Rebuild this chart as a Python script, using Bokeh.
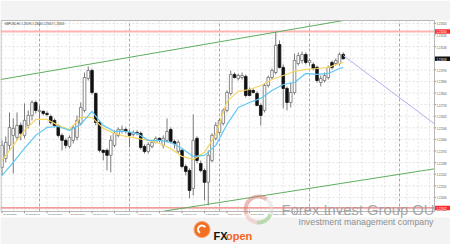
from bokeh.plotting import figure
from bokeh.models import Range1d
from bokeh.core.properties import value
from bokeh.embed import file_html
from bokeh.resources import INLINE

# ---------------- data ----------------
symbol = "GBPUSD,H1"
header_quote = "1.23076 1.23080 1.23057 1.23058"

bar_index = list(range(92))
opens = [1.22253, 1.22319, 1.22416, 1.22490, 1.22475, 1.22564, 1.22490, 1.22564, 1.22638, 1.22734,
         1.22668, 1.22668, 1.22653, 1.22630, 1.22601, 1.22564, 1.22490, 1.22453, 1.22408, 1.22453,
         1.22475, 1.22579, 1.22675, 1.22912, 1.22971, 1.22801, 1.22586, 1.22379, 1.22379, 1.22342,
         1.22416, 1.22490, 1.22519, 1.22534, 1.22512, 1.22497, 1.22512, 1.22505, 1.22408, 1.22371,
         1.22408, 1.22438, 1.22468, 1.22416, 1.22453, 1.22534, 1.22445, 1.22371, 1.22379, 1.22260,
         1.22230, 1.22097, 1.22468, 1.22282, 1.22230, 1.22142, 1.22304, 1.22468, 1.22512, 1.22579,
         1.22675, 1.22801, 1.22942, 1.22912, 1.22919, 1.22927, 1.22830, 1.22823, 1.22801, 1.22712,
         1.22675, 1.22860, 1.22919, 1.22956, 1.23164, 1.22994, 1.22838, 1.22734, 1.22808, 1.23023,
         1.23045, 1.23090, 1.23031, 1.23016, 1.22994, 1.22882, 1.22897, 1.22919, 1.23031, 1.23023,
         1.23023, 1.23090]
highs = [1.22453, 1.22482, 1.22660, 1.22616, 1.22660, 1.22586, 1.22727, 1.22675, 1.22749, 1.22749,
         1.22712, 1.22675, 1.22668, 1.22645, 1.22616, 1.22571, 1.22505, 1.22468, 1.22490, 1.22564,
         1.22638, 1.22734, 1.22956, 1.23001, 1.22986, 1.22808, 1.22601, 1.22386, 1.22393, 1.22490,
         1.22527, 1.22549, 1.22564, 1.22549, 1.22527, 1.22527, 1.22527, 1.22519, 1.22423, 1.22438,
         1.22453, 1.22482, 1.22475, 1.22490, 1.22616, 1.22549, 1.22460, 1.22453, 1.22393, 1.22275,
         1.22245, 1.22645, 1.22482, 1.22304, 1.22245, 1.22379, 1.22505, 1.22586, 1.22616, 1.22690,
         1.22823, 1.22971, 1.22956, 1.22949, 1.22956, 1.22942, 1.22845, 1.22838, 1.22816, 1.22727,
         1.22875, 1.22934, 1.22986, 1.23260, 1.23194, 1.23016, 1.22853, 1.22882, 1.23097, 1.23105,
         1.23112, 1.23105, 1.23060, 1.23031, 1.23008, 1.22934, 1.22956, 1.23008, 1.23045, 1.23060,
         1.23105, 1.23105]
lows = [1.22193, 1.22290, 1.22379, 1.22208, 1.22453, 1.22453, 1.22468, 1.22542, 1.22601, 1.22653,
        1.22564, 1.22638, 1.22630, 1.22571, 1.22549, 1.22475, 1.22379, 1.22393, 1.22393, 1.22430,
        1.22453, 1.22564, 1.22660, 1.22897, 1.22793, 1.22564, 1.22364, 1.22304, 1.22230, 1.22216,
        1.22401, 1.22475, 1.22505, 1.22505, 1.22401, 1.22482, 1.22490, 1.22386, 1.22356, 1.22356,
        1.22393, 1.22430, 1.22438, 1.22393, 1.22438, 1.22430, 1.22393, 1.22356, 1.22245, 1.22193,
        1.22023, 1.22045, 1.22282, 1.22216, 1.22008, 1.21971, 1.22290, 1.22453, 1.22497, 1.22564,
        1.22660, 1.22786, 1.22912, 1.22897, 1.22904, 1.22771, 1.22779, 1.22801, 1.22705, 1.22564,
        1.22660, 1.22845, 1.22904, 1.22942, 1.22986, 1.22690, 1.22675, 1.22697, 1.22793, 1.23008,
        1.23023, 1.23016, 1.23008, 1.22971, 1.22882, 1.22853, 1.22882, 1.22904, 1.22979, 1.23008,
        1.23008, 1.23053]
closes = [1.22416, 1.22438, 1.22549, 1.22542, 1.22564, 1.22505, 1.22601, 1.22638, 1.22734, 1.22675,
          1.22675, 1.22653, 1.22645, 1.22586, 1.22564, 1.22490, 1.22453, 1.22416, 1.22475, 1.22549,
          1.22601, 1.22697, 1.22919, 1.22971, 1.22808, 1.22586, 1.22379, 1.22364, 1.22342, 1.22453,
          1.22505, 1.22534, 1.22534, 1.22519, 1.22490, 1.22512, 1.22505, 1.22401, 1.22371, 1.22423,
          1.22438, 1.22468, 1.22453, 1.22468, 1.22519, 1.22445, 1.22430, 1.22438, 1.22260, 1.22223,
          1.22082, 1.22453, 1.22304, 1.22230, 1.22142, 1.22342, 1.22490, 1.22564, 1.22601, 1.22675,
          1.22808, 1.22942, 1.22919, 1.22934, 1.22934, 1.22786, 1.22786, 1.22808, 1.22712, 1.22638,
          1.22860, 1.22919, 1.22971, 1.23157, 1.22994, 1.22838, 1.22734, 1.22808, 1.23045, 1.23082,
          1.23090, 1.23031, 1.23045, 1.22986, 1.22897, 1.22912, 1.22934, 1.22994, 1.22994, 1.23045,
          1.23090, 1.23058]

ma_index = [0, 3, 6, 9, 12, 15, 18, 21, 24, 27, 30, 33, 36, 39, 42, 45, 48, 51, 54, 57,
            60, 63, 66, 69, 72, 75, 78, 81, 84, 87, 90, 91]
ma_yellow = [1.22304, 1.22416, 1.22527, 1.22608, 1.22608, 1.22564, 1.22534, 1.22623, 1.22623, 1.22542,
             1.22505, 1.22482, 1.22468, 1.22453, 1.22430, 1.22393, 1.22334, 1.22312, 1.22364, 1.22497,
             1.22742, 1.22816, 1.22830, 1.22860, 1.22904, 1.22934, 1.22964, 1.22979, 1.22986, 1.22994,
             1.23023, 1.23031]
ma_blue = [1.22193, 1.22290, 1.22393, 1.22490, 1.22549, 1.22556, 1.22527, 1.22571, 1.22668, 1.22564,
           1.22519, 1.22519, 1.22505, 1.22453, 1.22453, 1.22438, 1.22393, 1.22334, 1.22342, 1.22416,
           1.22571, 1.22697, 1.22734, 1.22764, 1.22823, 1.22867, 1.22882, 1.22949, 1.22942, 1.22949,
           1.22986, 1.22994]

time_tick_index = [0, 6, 12, 18, 24, 30, 36, 42, 48, 54, 60, 66, 72, 78, 84, 90]
time_tick_labels = ["30 Oct 2020", "30 Oct 20:00", "31 Oct 02:00", "31 Oct 08:00",
                    "31 Oct 14:00", "31 Oct 20:00", "1 Nov 02:00", "1 Nov 08:00",
                    "1 Nov 14:00", "1 Nov 20:00", "2 Nov 02:00", "2 Nov 08:00",
                    "2 Nov 14:00", "2 Nov 20:00", "3 Nov 02:00", "3 Nov 08:00"]
day_separator_index = [10, 34, 58, 82, 106]
grid_index = [0, 3, 6, 9, 12, 15, 18, 21, 24, 27, 30, 33, 36, 39, 42, 45, 48, 51, 54, 57,
              60, 63, 66, 69, 72, 75, 78, 81, 84, 87, 90, 93, 96, 99, 102, 105, 108, 111, 114]
price_ticks = [1.21944, 1.22030, 1.22116, 1.22202, 1.22288, 1.22374, 1.22460, 1.22546, 1.22632,
               1.22718, 1.22804, 1.22890, 1.22976, 1.23062, 1.23148, 1.23234, 1.23320]
price_tick_labels = ["1.21944", "1.22030", "1.22116", "1.22202", "1.22288", "1.22374", "1.22460",
                     "1.22546", "1.22632", "1.22718", "1.22804", "1.22890", "1.22976", "1.23062",
                     "1.23148", "1.23234", "1.23320"]

resistance_level = 1.23260
support_level = 1.21952
current_price = 1.23058
level_prices = [resistance_level, current_price, support_level]
level_labels = ["1.23260", "1.23058", "1.21952"]
level_colors = ["#ff2a2a", "#111111", "#ff2a2a"]

channel_upper_index = [-0.4, 91.1]
channel_upper_price = [1.22904, 1.23342]
channel_lower_index = [42.7, 115.3]
channel_lower_price = [1.21926, 1.22242]
projection_index = [91, 115.3]
projection_price = [1.23082, 1.22576]

# ---------------- canvas geometry (pixel -> data helpers for decoration only) ----------------
W, H = 450, 244
X0, X1 = -0.4, 119.6          # x data at canvas px 0 and 450
YT, YB = 1.23490, 1.21681     # price at canvas px 0 and 244


def dx(px):
    return X0 + px * (X1 - X0) / W


def dy(py):
    return YT - py * (YT - YB) / H


PX = (YT - YB) / H            # one pixel in price units
CHART_L, CHART_R, CHART_T, CHART_B = dx(0), dx(434), dy(20), dy(211)

p = figure(width=W, height=H, output_backend="svg", toolbar_location=None,
           x_range=Range1d(X0, X1), y_range=Range1d(YB, YT),
           x_axis_location=None, y_axis_location=None,
           min_border_left=0, min_border_right=0, min_border_top=0, min_border_bottom=0)
p.outline_line_color = None
p.background_fill_color = "white"
p.border_fill_color = "white"
p.grid.visible = False

# page bands
p.quad(left=[dx(0), dx(0)], right=[dx(450), dx(450)], top=[dy(0), dy(217)],
       bottom=[dy(20), dy(244)], fill_color="#f3f3f3", line_color=None)

# grid
p.multi_line(xs=[[CHART_L, CHART_R] for _ in price_ticks], ys=[[t, t] for t in price_ticks],
             line_color="#e2e2e2", line_dash="2 2", line_width=1)
p.multi_line(xs=[[g, g] for g in grid_index], ys=[[CHART_B, CHART_T] for _ in grid_index],
             line_color="#e2e2e2", line_dash="2 2", line_width=1)
p.multi_line(xs=[[d, d] for d in day_separator_index], ys=[[CHART_B, CHART_T] for _ in day_separator_index],
             line_color="#a8a8a8", line_dash="3 2", line_width=1)

# horizontal levels
p.segment(x0=[CHART_L], x1=[CHART_R], y0=[resistance_level], y1=[resistance_level],
          line_color="#ffb3b3", line_width=2)
p.segment(x0=[CHART_L], x1=[CHART_R], y0=[support_level], y1=[support_level],
          line_color="#f07a7a", line_width=1.3)

# candles
up = [i for i in bar_index if closes[i] >= opens[i]]
dn = [i for i in bar_index if closes[i] < opens[i]]
p.segment(x0=bar_index, y0=highs, x1=bar_index, y1=lows, line_color="#7a7a7a", line_width=1)
p.vbar(x=up, top=[closes[i] for i in up], bottom=[opens[i] for i in up], width=0.7,
       fill_color="white", line_color="#6e6e6e", line_width=0.8)
p.vbar(x=dn, top=[opens[i] for i in dn], bottom=[closes[i] for i in dn], width=0.7,
       fill_color="#111111", line_color="#111111", line_width=0.8)

# moving averages
p.line(ma_index, ma_yellow, line_color="#f5d565", line_width=1.2)
p.line(ma_index, ma_blue, line_color="#5ec8f2", line_width=1.2)

# channel and projection
p.line(channel_upper_index, channel_upper_price, line_color="#5fae5f", line_width=1)
p.line(channel_lower_index, channel_lower_price, line_color="#5fae5f", line_width=1)
p.line(projection_index, projection_price, line_color="#b0b0ee", line_width=1)

# chart frame
p.quad(left=[dx(0.5)], right=[dx(434)], top=[CHART_T], bottom=[CHART_B],
       fill_color=None, line_color="#b8b8b8", line_width=1)

# price scale (right)
p.segment(x0=[dx(434)] * len(price_ticks), x1=[dx(435.5)] * len(price_ticks),
          y0=price_ticks, y1=price_ticks, line_color="#999999", line_width=1)
p.text(x=[dx(436)] * len(price_ticks), y=price_ticks, text=price_tick_labels,
       text_font=value("Liberation Sans"), text_font_size=value("2.8px"),
       text_color="#555555", text_align="left", text_baseline="middle")
p.quad(left=[dx(434.5)] * 3, right=[dx(450)] * 3,
       top=[v + 2.3 * PX for v in level_prices], bottom=[v - 2.3 * PX for v in level_prices],
       fill_color=level_colors, line_color=None)
p.text(x=[dx(436)] * 3, y=level_prices, text=level_labels,
       text_font=value("Liberation Sans"), text_font_size=value("2.8px"),
       text_color="white", text_align="left", text_baseline="middle")

# time scale (bottom)
p.segment(x0=time_tick_index, x1=time_tick_index, y0=[dy(211)] * len(time_tick_index),
          y1=[dy(212.8)] * len(time_tick_index), line_color="#999999", line_width=1)
p.text(x=time_tick_index, y=[dy(214.3)] * len(time_tick_index), text=time_tick_labels,
       x_offset=1, text_font=value("Liberation Sans"), text_font_size=value("2.5px"),
       text_color="#555555", text_align="left", text_baseline="middle")

# header
p.text(x=[dx(4)], y=[dy(23.5)], text=[symbol + "  " + header_quote],
       text_font=value("Liberation Sans"), text_font_size=value("2.8px"),
       text_color="#333333", text_align="left", text_baseline="middle")

# watermark ring
ring_arcs = [(0.9, 3.5, "#d9776f"), (3.5, 4.6, "#e9b9b4"), (4.6, 5.9, "#7fbf6a"), (5.9, 7.18, "#dddddd")]
for a0, a1, col in ring_arcs:
    p.annular_wedge(x=[dx(258)], y=[dy(209)], inner_radius=11, outer_radius=15,
                    inner_radius_units="screen", outer_radius_units="screen",
                    start_angle=a0, end_angle=a1, fill_color=col, fill_alpha=0.5, line_color=None)
p.text(x=[dx(281)], y=[dy(209.5)], text=["Forex Invest Group OU"],
       text_font=value("Liberation Sans"), text_font_size=value("14.8px"),
       text_color="#999999", text_alpha=0.85, text_align="left", text_baseline="alphabetic")
p.text(x=[dx(298)], y=[dy(221)], text=["Investment management company"],
       text_font=value("Liberation Sans"), text_font_size=value("8.8px"),
       text_color="#8e8e8e", text_align="left", text_baseline="alphabetic")

# FXOpen logo
p.scatter(x=[dx(201.5)], y=[dy(229)], size=16, marker="circle",
          fill_color="#f26f21", line_color="#f7a06a", line_width=1)
p.annular_wedge(x=[dx(201.5)], y=[dy(229)], inner_radius=3, outer_radius=5,
                inner_radius_units="screen", outer_radius_units="screen",
                start_angle=0.6, end_angle=4.2, fill_color="white", line_color=None)
p.text(x=[dx(213)], y=[dy(235)], text=["FX"], text_font=value("Liberation Sans"),
       text_font_style="bold", text_font_size=value("11px"), text_color="#111111",
       text_align="left", text_baseline="alphabetic")
p.text(x=[dx(225.5)], y=[dy(235)], text=["open"], text_font=value("Liberation Sans"),
       text_font_style="bold", text_font_size=value("11px"), text_color="#f26522",
       text_align="left", text_baseline="alphabetic")

open("out.html", "w").write(file_html(p, INLINE))
